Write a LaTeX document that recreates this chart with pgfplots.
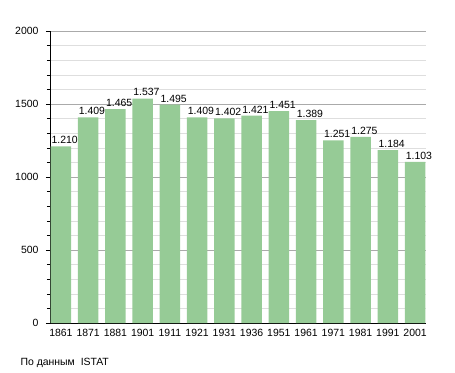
\documentclass[border=0pt]{standalone}
\usepackage{pgfplots}
\pgfplotsset{compat=1.18}
\usepackage{fontspec}
\setmainfont{Liberation Sans}
\definecolor{bargreen}{RGB}{150,203,150}
\definecolor{majgrid}{RGB}{170,170,170}
\definecolor{mingrid}{RGB}{222,222,222}
\begin{document}
\begin{tikzpicture}
\useasboundingbox (0,0) rectangle (455bp,373bp);
\begin{axis}[
  at={(50bp,50bp)}, anchor=south west,
  scale only axis, width=376bp, height=292bp,
  xmin=-0.4, xmax=13.4, ymin=0, ymax=2000,
  axis lines*=left, axis line style={black, line width=0.8pt},
  ybar, bar width=20.5bp, bar shift=0pt,
  xtick={0,...,13},
  xticklabels={1861,1871,1881,1901,1911,1921,1931,1936,1951,1961,1971,1981,1991,2001},
  x tick style={draw=none},
  ytick={0,500,...,2000}, minor y tick num=4,
  ymajorgrids, yminorgrids,
  major grid style={majgrid, line width=0.6pt},
  minor grid style={mingrid, line width=0.5pt},
  y tick style={black, line width=0.5pt},
  tick align=outside, major tick length=4bp, minor tick length=3bp,
  /pgf/number format/1000 sep={},
  /pgf/number format/assume math mode=true,
  tick label style={font=\fontsize{10.5}{12}\selectfont},
  yticklabel style={xshift=-4bp},
  xticklabel style={yshift=1bp},
  nodes near coords={\pgfmathprintnumber[1000 sep={.},assume math mode=true]{\pgfplotspointmeta}},
  every node near coord/.append style={font=\fontsize{10.5}{12}\selectfont, black, anchor=south west, xshift=-9.5bp, inner xsep=0pt, yshift=-1bp},
  clip=false,
]
\addplot[fill=bargreen, draw=none] coordinates {
(0,1210) (1,1409) (2,1465) (3,1537) (4,1495) (5,1409) (6,1402)
(7,1421) (8,1451) (9,1389) (10,1251) (11,1275) (12,1184) (13,1103)};
\end{axis}
\node[anchor=base west, font=\fontsize{10.5}{12}\selectfont] at (17bp,8bp) {По данным\ \ ISTAT};
\end{tikzpicture}
\end{document}
